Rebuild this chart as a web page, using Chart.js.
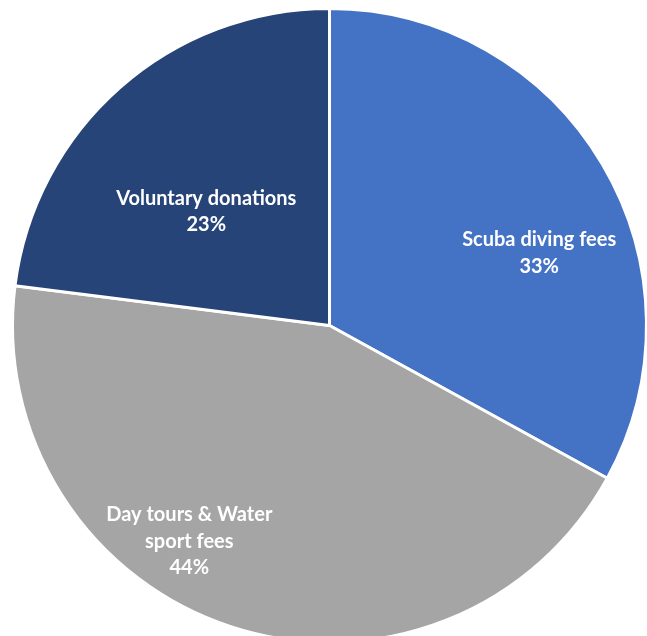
<!DOCTYPE html>
<html>
<head>
<meta charset="utf-8">
<script src="https://cdn.jsdelivr.net/npm/chart.js@4"></script>
<style>
	html, body { margin: 0; padding: 0; background: #fff; overflow: hidden; }
	#wrap { position: absolute; left: 0; top: 0; width: 650px; height: 650px; }
</style>
</head>
<body>
<div id="wrap"><canvas id="pieChart"></canvas></div>
<script>
// revenue sources
let categories = ['Scuba diving fees', 'Day tours & Water sport fees', 'Voluntary donations'];
let labelLines = [['Scuba diving fees'], ['Day tours & Water', 'sport fees'], ['Voluntary donations']];
let shares = [33, 44, 23];
let colours = ['#4472C4', '#A5A5A5', '#264478'];

// where each label sits: angle shift (deg) from slice middle, fraction of radius
const labelPlace = [[11.5, 0.70], [15, 0.812], [-5.8, 0.53]];

const sliceLabels = {
	id: 'sliceLabels',
	afterDatasetsDraw(chart) {
		const ctx = chart.ctx;
		const meta = chart.getDatasetMeta(0);
		ctx.save();
		ctx.fillStyle = '#fff';
		ctx.font = 'bold 20px Lato';
		ctx.textAlign = 'center';
		ctx.textBaseline = 'middle';
		meta.data.forEach((arc, i) => {
			const p = arc.getProps(['x', 'y', 'startAngle', 'endAngle', 'outerRadius'], true);
			const a = (p.startAngle + p.endAngle) / 2 + labelPlace[i][0] * Math.PI / 180;
			const r = p.outerRadius * labelPlace[i][1];
			const cx = p.x + Math.cos(a) * r;
			const cy = p.y + Math.sin(a) * r;
			const lines = labelLines[i].concat([shares[i] + '%']);
			const lh = 26.5;
			lines.forEach((t, j) => {
				ctx.fillText(t, cx, cy + (j - (lines.length - 1) / 2) * lh);
			});
		});
		ctx.restore();
	}
};

const pieData = {
	labels: categories,
	datasets: [{
		data: shares,
		backgroundColor: colours,
		borderColor: '#fff',
		borderWidth: 3,
		hoverOffset: 0
	}]
};

const configPie = {
	type: 'pie',
	data: pieData,
	options: {
		responsive: true,
		maintainAspectRatio: false,
		animation: false,
		layout: {
			padding: { left: 11, right: 2, top: 7, bottom: 6 }
		},
		plugins: {
			legend: { display: false },
			tooltip: { enabled: false }
		}
	},
	plugins: [sliceLabels]
};

const pieChart = new Chart(
	document.getElementById('pieChart'),
	configPie
);
</script>
</body>
</html>
